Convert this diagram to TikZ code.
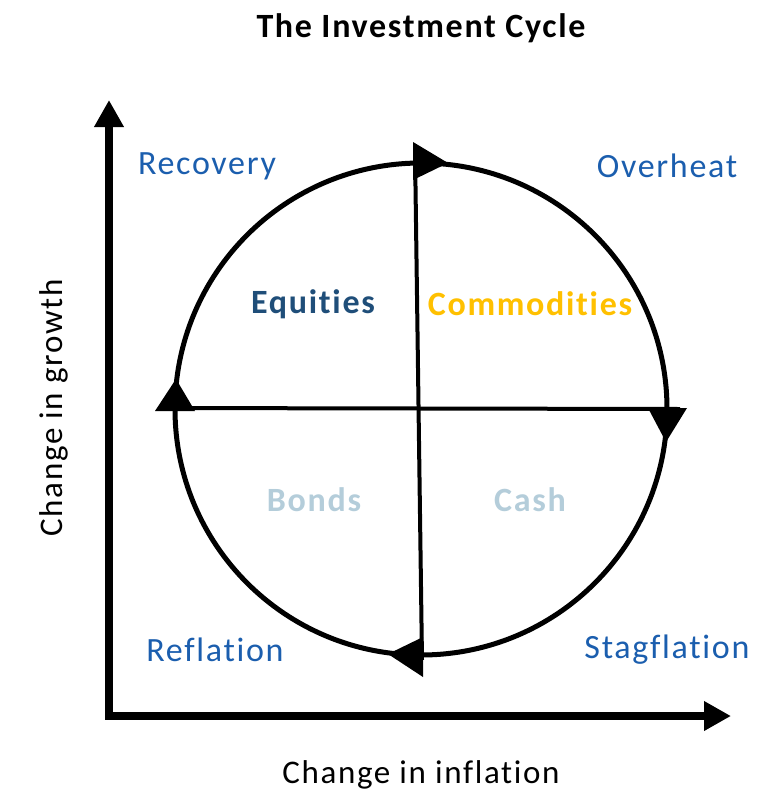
\documentclass[tikz,border=0pt]{standalone}
\usepackage{fontspec}
\setmainfont{Carlito}[LetterSpace=5, Ligatures=NoCommon]
\usetikzlibrary{arrows.meta}
\definecolor{phase}{HTML}{1B5EAE}
\definecolor{equity}{HTML}{1F4E79}
\definecolor{commod}{HTML}{FFC000}
\definecolor{safe}{HTML}{B4CDDA}
\begin{document}
\begin{tikzpicture}[x=1pt, y=-1pt,
    phase/.style={text=phase, font=\fontsize{34}{36}\selectfont},
    asset/.style={font=\bfseries\fontsize{34}{36}\selectfont},
    axislabel/.style={font=\fontsize{33}{35}\selectfont}]
  \useasboundingbox (0, 0) rectangle (783, 795);
  \node [font=\bfseries\fontsize{34}{36}\selectfont] (title) at (421, 28) {The Investment Cycle};
  \coordinate (origin) at (109, 716);
  \coordinate (yend) at (109, 100);
  \coordinate (xend) at (731, 716);
  \draw [line width=8pt, {Triangle[length=27pt, width=28pt]}-{Triangle[length=27pt, width=28pt]}] (yend) -- (origin) -- (xend);
  \coordinate (c) at (421, 409);
  \draw [line width=5pt] (c) circle [radius=246];
  \coordinate (top) at (415, 150);
  \coordinate (bot) at (422, 660);
  \coordinate (lft) at (160, 408);
  \coordinate (rgt) at (680, 409);
  \draw [line width=4pt] (top) -- (bot);
  \draw [line width=4pt] (lft) -- (rgt);
  \fill (413, 142) -- (448, 163) -- (413, 180) -- cycle;
  \fill (155, 411) -- (176, 379) -- (195, 411) -- cycle;
  \fill (648, 408) -- (687, 408) -- (666, 442) -- cycle;
  \fill (423, 637) -- (388, 654) -- (423, 677) -- cycle;
  \node [phase] (recovery) at (207, 166) {Recovery};
  \node [phase] (overheat) at (667, 166) {Overheat};
  \node [phase] (reflation) at (215, 650) {Reflation};
  \node [phase] (stagflation) at (667, 650) {Stagflation};
  \node [asset, text=equity] (equities) at (313, 304) {Equities};
  \node [asset, text=commod] (commodities) at (530, 304) {Commodities};
  \node [asset, text=safe] (bonds) at (314, 500) {Bonds};
  \node [asset, text=safe] (cash) at (530, 500) {Cash};
  \node [axislabel, rotate=90] (growth) at (54, 408) {Change in growth};
  \node [axislabel] (inflation) at (421, 775) {Change in inflation};
\end{tikzpicture}
\end{document}
